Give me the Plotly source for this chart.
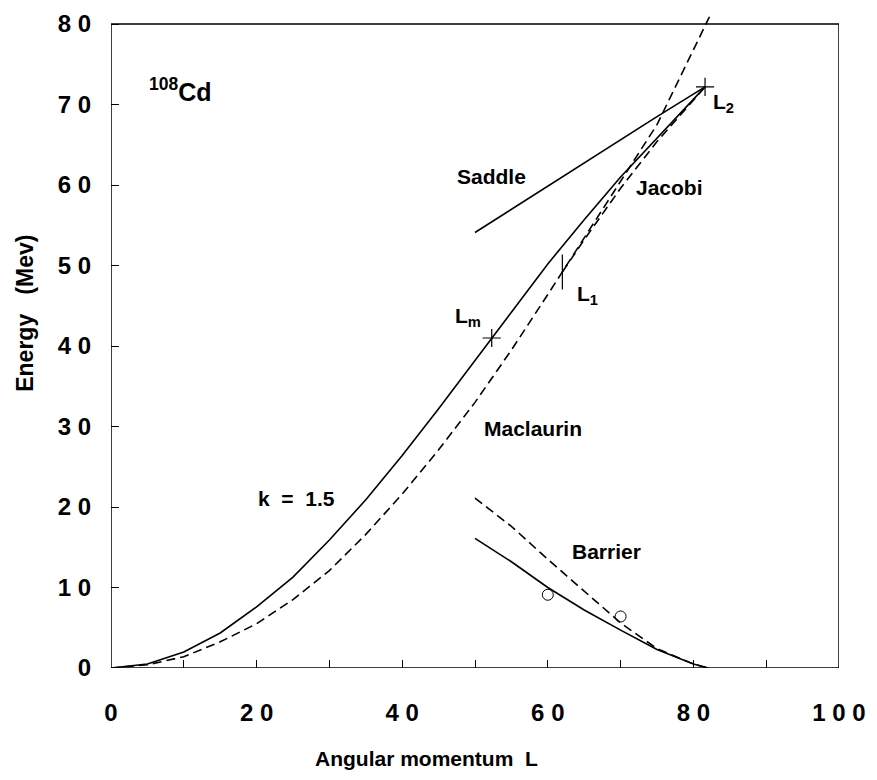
import plotly.graph_objects as go

# Rotating-liquid-drop energies for 108Cd (k = 1.5)
L_total = [0, 5, 10, 15, 20, 25, 30, 35, 40, 45, 50, 52.3, 55, 60, 65, 70, 75, 81.6]
E_total = [0, 0.5, 2.0, 4.35, 7.6, 11.3, 15.9, 20.9, 26.4, 32.2, 38.2, 41.0, 44.2, 50.2, 55.7, 61.0, 65.8, 72.2]

L_maclaurin = [0, 5, 10, 15, 20, 25, 30, 35, 40, 45, 50, 55, 60, 62, 65, 70, 75, 80, 82.2]
E_maclaurin = [0, 0.4, 1.4, 3.25, 5.5, 8.5, 12.1, 16.6, 21.6, 27.1, 33.0, 39.5, 46.4, 49.2, 53.5, 60.4, 67.5, 76.8, 80.9]

L_jacobi = [62, 65, 70, 75, 81.6]
E_jacobi = [49.2, 53.2, 59.6, 65.4, 72.2]

L_saddle = [50, 55, 60, 65, 70, 75, 81.6]
E_saddle = [54.1, 57.0, 59.9, 62.8, 65.6, 68.5, 72.2]

L_barrier = [50, 55, 60, 65, 70, 75, 80, 82]
E_barrier_solid = [16.1, 13.2, 10.0, 7.2, 4.7, 2.3, 0.5, 0.0]
E_barrier_dash = [21.1, 17.6, 13.5, 9.6, 5.6, 2.4, 0.5, 0.0]

L_exp = [60, 70]
E_exp = [9.1, 6.4]

# Characteristic angular momenta
L_m, E_m = [52.3], [41.0]
L_1, E_1 = [62.0], [49.2]
L_2, E_2 = [81.6], [72.2]

x_ticks = [0, 10, 20, 30, 40, 50, 60, 70, 80, 90, 100]
x_ticktext = ["0", "", "2 0", "", "4 0", "", "6 0", "", "8 0", "", "1 0 0"]
y_ticks = [0, 10, 20, 30, 40, 50, 60, 70, 80]
y_ticktext = ["0", "1 0", "2 0", "3 0", "4 0", "5 0", "6 0", "7 0", "8 0"]

FONT = "Liberation Sans, Arial, sans-serif"
DASH = "9px,5px"
LW = 1.6

fig = go.Figure()

def line(x, y, dash=None):
    fig.add_trace(go.Scatter(x=x, y=y, mode="lines",
                             line=dict(color="black", width=LW, dash=dash),
                             showlegend=False, hoverinfo="skip"))

line(L_total, E_total)
line(L_maclaurin, E_maclaurin, DASH)
line(L_jacobi, E_jacobi, DASH)
line(L_saddle, E_saddle)
line(L_barrier, E_barrier_solid)
line(L_barrier, E_barrier_dash, DASH)

fig.add_trace(go.Scatter(x=L_exp, y=E_exp, mode="markers",
                         marker=dict(symbol="circle-open", size=11, color="black",
                                     line=dict(width=1, color="black")),
                         showlegend=False))
fig.add_trace(go.Scatter(x=L_m + L_2, y=E_m + E_2, mode="markers",
                         marker=dict(symbol="cross-thin-open", size=13, color="black",
                                     line=dict(width=1.2, color="black")),
                         showlegend=False))
fig.add_trace(go.Scatter(x=L_1, y=E_1, mode="markers",
                         marker=dict(symbol="line-ns-open", size=25, color="black",
                                     line=dict(width=1.2, color="black")),
                         showlegend=False))

# Frame of the plotting box
fig.add_shape(type="rect", xref="x", yref="y", x0=0, x1=100, y0=0, y1=80,
              line=dict(color="black", width=1.5), layer="above")

lab = dict(family=FONT, size=21, color="black")

def note(x, y, text, xanchor="center", size=21):
    f = dict(lab)
    f["size"] = size
    fig.add_annotation(x=x, y=y, xref="x", yref="y", text="<b>" + text + "</b>",
                       showarrow=False, xanchor=xanchor, yanchor="middle", font=f)

note(4.9, 71.8, "<sup>108</sup>Cd", xanchor="left", size=25)
note(52.2, 61.1, "Saddle")
note(76.7, 59.7, "Jacobi")
note(82.4, 70.2, "L<sub>2</sub>", xanchor="left")
note(63.7, 46.4, "L<sub>1</sub>", xanchor="left")
note(47.0, 43.6, "L<sub>m</sub>", xanchor="left")
note(58.0, 29.7, "Maclaurin")
note(25.5, 21.0, "k  =  1.5")
note(68.1, 14.5, "Barrier")

fig.add_annotation(x=0.434, y=-0.1385, xref="paper", yref="paper",
                   text="<b>Angular momentum  L</b>", showarrow=False,
                   xanchor="center", yanchor="middle", font=lab)
ylab = dict(lab)
ylab["size"] = 23
fig.add_annotation(x=-0.118, y=0.5434, xref="paper", yref="paper",
                   text="<b>Energy   (Mev)</b>", showarrow=False, textangle=-90,
                   xanchor="center", yanchor="middle", font=ylab)

tickfont = dict(family=FONT, size=24, color="black", weight="bold")

fig.update_xaxes(range=[0, 100], tickmode="array", tickvals=x_ticks, ticktext=x_ticktext,
                 ticks="inside", ticklen=8, tickwidth=1, tickcolor="black",
                 showline=False, showgrid=False, zeroline=False,
                 tickfont=tickfont, ticklabelstandoff=28)
fig.update_yaxes(range=[0, 81], tickmode="array", tickvals=y_ticks, ticktext=y_ticktext,
                 ticks="inside", ticklen=8, tickwidth=1, tickcolor="black",
                 showline=False, showgrid=False, zeroline=False,
                 tickfont=tickfont, ticklabelstandoff=19)

fig.update_layout(width=877, height=780,
                  margin=dict(l=111, r=31, t=11, b=112),
                  plot_bgcolor="white", paper_bgcolor="white",
                  font=dict(family=FONT, color="black"))

fig.write_html("out.html")
